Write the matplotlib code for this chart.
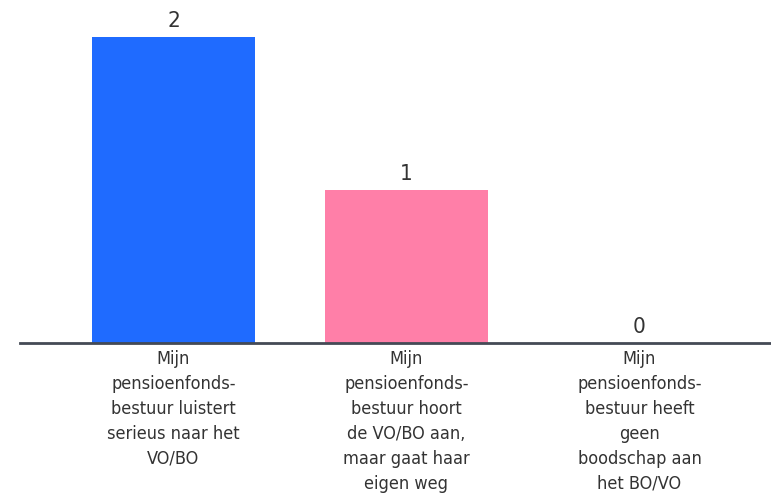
import matplotlib.pyplot as plt

categories = [
    "Mijn\npensioenfonds-\nbestuur luistert\nserieus naar het\nVO/BO",
    "Mijn\npensioenfonds-\nbestuur hoort\nde VO/BO aan,\nmaar gaat haar\neigen weg",
    "Mijn\npensioenfonds-\nbestuur heeft\ngeen\nboodschap aan\nhet BO/VO",
]
values = [2, 1, 0]
colors = ["#1f6bff", "#ff7fa8", "#9e9e9e"]

W, H = 771, 496
fig = plt.figure(figsize=(W / 100, H / 100), dpi=100)
ax = fig.add_axes([0, (H - 343) / H, 1, 343 / H])

x = list(range(len(values)))
bars = ax.bar(x, values, width=0.7, color=colors)

for xi, v in zip(x, values):
    ax.text(xi, v + 0.04, str(v), ha="center", va="bottom",
            fontsize=16, color="#333333", family="DejaVu Sans",
            fontstretch="condensed")

left = -173.5 / 233
right = left + 771 / 233
ax.set_xlim(left, right)
ax.set_ylim(0, 2.24)
ax.set_yticks([])
ax.set_xticks(x)
ax.set_xticklabels(categories, fontsize=13, color="#333333",
                   family="DejaVu Sans", fontstretch="condensed",
                   linespacing=1.5)
ax.tick_params(axis="x", length=0, pad=5)

for side in ["top", "right", "left"]:
    ax.spines[side].set_visible(False)
ax.spines["bottom"].set_color("#444a55")
ax.spines["bottom"].set_linewidth(2)
ax.spines["bottom"].set_bounds(left + 20 / 233, right)

fig.savefig("out.png", dpi=100)
